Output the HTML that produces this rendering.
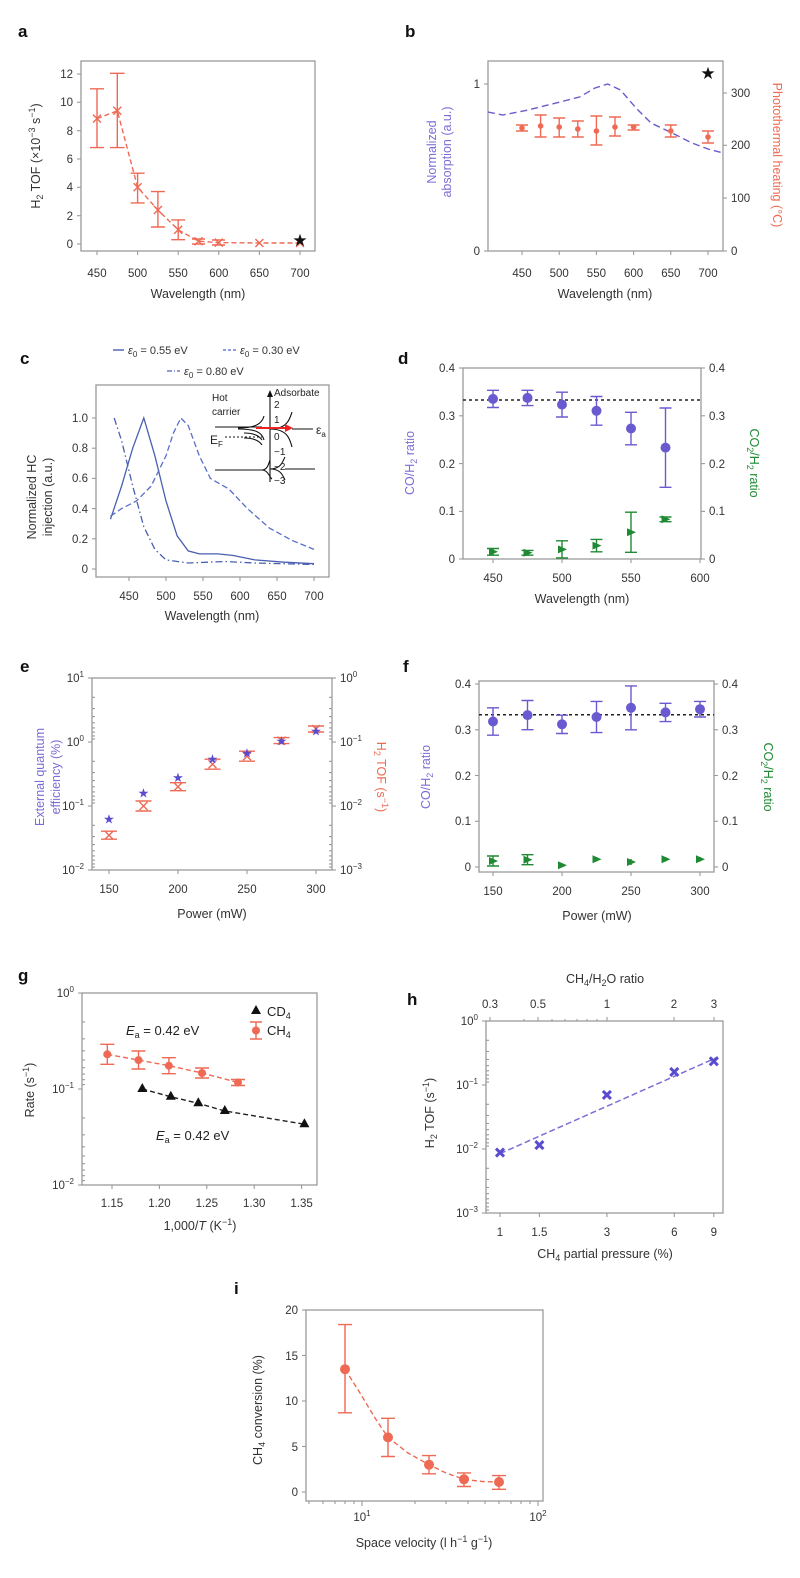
<!DOCTYPE html>
<html><head><meta charset="utf-8"><style>
html,body{margin:0;padding:0;background:#fff;}
svg{display:block;font-family:"Liberation Sans",sans-serif;}
.fr{fill:none;stroke:#9a9a9a;stroke-width:1.3}
.tk{stroke:#9a9a9a;stroke-width:1.1}
.tl{font-size:11.5px;fill:#333}
.al{font-size:12.5px;fill:#333}
.pl{font-size:17px;font-weight:bold;fill:#111}
.r{stroke:#ee6a55;fill:none;stroke-width:1.4}
.p{stroke:#6a5ad0;fill:none;stroke-width:1.4}
.g{stroke:#1f8a33;fill:none;stroke-width:1.4}
</style></head><body>
<svg width="800" height="1578" viewBox="0 0 800 1578">
<!-- ===== a ===== -->
<text class="pl" x="18" y="37">a</text>
<rect class="fr" x="81" y="61" width="234" height="190"/>
<g class="tk">
<line x1="77" y1="74" x2="81" y2="74"/><line x1="77" y1="102.3" x2="81" y2="102.3"/><line x1="77" y1="130.7" x2="81" y2="130.7"/><line x1="77" y1="159" x2="81" y2="159"/><line x1="77" y1="187.3" x2="81" y2="187.3"/><line x1="77" y1="215.7" x2="81" y2="215.7"/><line x1="77" y1="244" x2="81" y2="244"/>
<line x1="97" y1="251" x2="97" y2="255"/><line x1="137.6" y1="251" x2="137.6" y2="255"/><line x1="178.2" y1="251" x2="178.2" y2="255"/><line x1="218.8" y1="251" x2="218.8" y2="255"/><line x1="259.4" y1="251" x2="259.4" y2="255"/><line x1="300" y1="251" x2="300" y2="255"/>
</g>
<g class="tl" text-anchor="end"><text x="73" y="78">12</text><text x="73" y="106">10</text><text x="73" y="135">8</text><text x="73" y="163">6</text><text x="73" y="191">4</text><text x="73" y="220">2</text><text x="73" y="248">0</text></g>
<g class="tl" text-anchor="middle"><text x="97" y="277">450</text><text x="137.6" y="277">500</text><text x="178.2" y="277">550</text><text x="218.8" y="277">600</text><text x="259.4" y="277">650</text><text x="300" y="277">700</text></g>
<text class="al" x="198" y="298" text-anchor="middle">Wavelength (nm)</text>
<text class="al" transform="rotate(-90 40 156)" x="40" y="156" text-anchor="middle">H<tspan font-size="9" dy="3">2</tspan><tspan dy="-3"> TOF (×10</tspan><tspan font-size="9" dy="-5">−3</tspan><tspan dy="5"> s</tspan><tspan font-size="9" dy="-5">−1</tspan><tspan dy="5">)</tspan></text>
<polyline class="r" stroke-dasharray="5,3" points="97,118.6 117.3,110.8 137.6,187.3 157.9,210 178.2,229.8 198.5,241.2 218.8,242.6 259.4,243 300,243"/>
<g class="r">
<path d="M97,88.8V147.6M90,88.8H104M90,147.6H104"/>
<path d="M117.3,73.3V147.6M110,73.3H124.6M110,147.6H124.6"/>
<path d="M137.6,173.2V202.9M130.6,173.2H144.6M130.6,202.9H144.6"/>
<path d="M157.9,191.6V227M150.9,191.6H164.9M150.9,227H164.9"/>
<path d="M178.2,219.9V239.7M171.2,219.9H185.2M171.2,239.7H185.2"/>
<path d="M93,114.6l8,8M101,114.6l-8,8M113.3,106.8l8,8M121.3,106.8l-8,8M133.6,183.3l8,8M141.6,183.3l-8,8M153.9,206l8,8M161.9,206l-8,8M174.2,225.8l8,8M182.2,225.8l-8,8M194.5,237.2l8,8M202.5,237.2l-8,8M214.8,238.6l8,8M222.8,238.6l-8,8M255.4,239l8,8M263.4,239l-8,8M296,239l8,8M304,239l-8,8"/>
<path d="M192,239H205M192,244H205M212,240H225M212,245H225"/>
</g>
<text x="300" y="246" font-size="17" text-anchor="middle" fill="#111">★</text>

<!-- ===== b ===== -->
<text class="pl" x="405" y="37">b</text>
<rect class="fr" x="488" y="61" width="235" height="190"/>
<g class="tk">
<line x1="484" y1="84" x2="488" y2="84"/><line x1="484" y1="251" x2="488" y2="251"/>
<line x1="723" y1="93" x2="727" y2="93"/><line x1="723" y1="145.3" x2="727" y2="145.3"/><line x1="723" y1="198" x2="727" y2="198"/><line x1="723" y1="251" x2="727" y2="251"/>
<line x1="522" y1="251" x2="522" y2="255"/><line x1="559.2" y1="251" x2="559.2" y2="255"/><line x1="596.4" y1="251" x2="596.4" y2="255"/><line x1="633.6" y1="251" x2="633.6" y2="255"/><line x1="670.8" y1="251" x2="670.8" y2="255"/><line x1="708" y1="251" x2="708" y2="255"/>
</g>
<g class="tl" text-anchor="end"><text x="480" y="88">1</text><text x="480" y="255">0</text></g>
<g class="tl"><text x="731" y="97">300</text><text x="731" y="149">200</text><text x="731" y="202">100</text><text x="731" y="255">0</text></g>
<g class="tl" text-anchor="middle"><text x="522" y="277">450</text><text x="559.2" y="277">500</text><text x="596.4" y="277">550</text><text x="633.6" y="277">600</text><text x="670.8" y="277">650</text><text x="708" y="277">700</text></g>
<text class="al" x="605" y="298" text-anchor="middle">Wavelength (nm)</text>
<text class="al" fill="#7a6ed6" style="fill:#7a6ed6" transform="rotate(-90 436 152)" x="436" y="152" text-anchor="middle">Normalized</text>
<text class="al" style="fill:#7a6ed6" transform="rotate(-90 451 152)" x="451" y="152" text-anchor="middle">absorption (a.u.)</text>
<text class="al" style="fill:#ee6a55" transform="rotate(90 773 155)" x="773" y="155" text-anchor="middle">Photothermal heating (°C)</text>
<polyline class="p" stroke-dasharray="7,4" points="488,112 502.6,115 528,110 564,101 579.5,97 595,88 607.7,84 620.5,90 636,108 651,123 672,133 692,143 708,149 723,153"/>
<g class="r">
<path d="M522,125V131M516,125H528M516,131H528M540.6,115V137M534.6,115H546.6M534.6,137H546.6M559.2,118V137M553.2,118H565.2M553.2,137H565.2M577.8,121V137M571.8,121H583.8M571.8,137H583.8M596.4,116V145M590.4,116H602.4M590.4,145H602.4M615,117V136M609,117H621M609,136H621M633.6,125V130M627.6,125H639.6M627.6,130H639.6M670.8,125V137M664.8,125H676.8M664.8,137H676.8M708,131V143M702,131H714M702,143H714"/>
</g>
<g fill="#ee6a55"><circle cx="522" cy="128" r="2.8"/><circle cx="540.6" cy="126" r="2.8"/><circle cx="559.2" cy="127" r="2.8"/><circle cx="577.8" cy="129" r="2.8"/><circle cx="596.4" cy="131" r="2.8"/><circle cx="615" cy="127" r="2.8"/><circle cx="633.6" cy="127" r="2.8"/><circle cx="670.8" cy="131" r="2.8"/><circle cx="708" cy="137" r="2.8"/></g>
<text x="708" y="79" font-size="17" text-anchor="middle" fill="#111">★</text>

<!-- ===== c ===== -->
<text class="pl" x="20" y="364">c</text>
<g font-size="11" fill="#333">
<line x1="113" y1="350" x2="124" y2="350" stroke="#4a5fb0" stroke-width="1.4"/><text x="128" y="354"><tspan font-style="italic">ε</tspan><tspan font-size="8" dy="3">0</tspan><tspan dy="-3"> = 0.55 eV</tspan></text>
<line x1="223" y1="350" x2="236" y2="350" stroke="#6a7ad0" stroke-width="1.4" stroke-dasharray="3,2"/><text x="240" y="354"><tspan font-style="italic">ε</tspan><tspan font-size="8" dy="3">0</tspan><tspan dy="-3"> = 0.30 eV</tspan></text>
<line x1="167" y1="371" x2="180" y2="371" stroke="#6a7ad0" stroke-width="1.4" stroke-dasharray="5,2,1,2"/><text x="184" y="375"><tspan font-style="italic">ε</tspan><tspan font-size="8" dy="3">0</tspan><tspan dy="-3"> = 0.80 eV</tspan></text>
</g>
<rect class="fr" x="96" y="385" width="233" height="192"/>
<g class="tk">
<line x1="92" y1="418" x2="96" y2="418"/><line x1="92" y1="448.2" x2="96" y2="448.2"/><line x1="92" y1="478.4" x2="96" y2="478.4"/><line x1="92" y1="508.6" x2="96" y2="508.6"/><line x1="92" y1="538.8" x2="96" y2="538.8"/><line x1="92" y1="569" x2="96" y2="569"/>
<line x1="129" y1="577" x2="129" y2="581"/><line x1="166" y1="577" x2="166" y2="581"/><line x1="203" y1="577" x2="203" y2="581"/><line x1="240" y1="577" x2="240" y2="581"/><line x1="277" y1="577" x2="277" y2="581"/><line x1="314" y1="577" x2="314" y2="581"/>
</g>
<g class="tl" text-anchor="end"><text x="88" y="422">1.0</text><text x="88" y="452">0.8</text><text x="88" y="482">0.6</text><text x="88" y="513">0.4</text><text x="88" y="543">0.2</text><text x="88" y="573">0</text></g>
<g class="tl" text-anchor="middle"><text x="129" y="600">450</text><text x="166" y="600">500</text><text x="203" y="600">550</text><text x="240" y="600">600</text><text x="277" y="600">650</text><text x="314" y="600">700</text></g>
<text class="al" x="212" y="620" text-anchor="middle">Wavelength (nm)</text>
<text class="al" transform="rotate(-90 36 497)" x="36" y="497" text-anchor="middle">Normalized HC</text>
<text class="al" transform="rotate(-90 52 497)" x="52" y="497" text-anchor="middle">injection (a.u.)</text>
<polyline fill="none" stroke="#4a5fb0" stroke-width="1.3" points="110.5,519.2 121.6,486 132.7,448.2 143.8,418 154.9,455.8 166,501 177.1,535.8 188.2,550.9 199.3,553.9 217.8,553.9 232.6,555.4 254.8,559.9 284.4,562.2 314,563.7"/>
<polyline fill="none" stroke="#5a6ec8" stroke-width="1.3" stroke-dasharray="6,3" points="110.5,516.2 121.6,508.6 136.4,501 151.2,486 166,455.8 173.4,433.1 180.8,418 188.2,425.5 199.3,455.8 210.4,478.4 228.9,489 247.4,508.6 269.6,528.2 291.8,540.3 314,549.4"/>
<polyline fill="none" stroke="#4a5fb0" stroke-width="1.3" stroke-dasharray="7,3,1.5,3" points="114.2,418 121.6,440.7 132.7,486 143.8,526.7 154.9,549.4 166,559.9 188.2,563 225.2,561.5 254.8,563 314,564.5"/>
<!-- inset -->
<g stroke="#111" fill="none" stroke-width="1.1">
<line x1="270" y1="482" x2="270" y2="394"/>
<path d="M238,428 C255,428 262,424 264,416 M238,429 C255,429 262,432 264,440" />
<path d="M270,429 C288,429 290,418 292,412 M270,429 C288,429 290,440 292,447 M292,429 H313"/>
<path d="M215,427 H262 M215,470 H262 C268,470 270,478 272,479 M262,470 C268,470 269,462 270,460"/>
<path d="M270,469 C282,469 283,460 285,457 M270,469 C282,469 283,477 285,480 M285,469 H315"/>
<path d="M244,433 C255,433 260,437 262,440 M244,438 C255,438 260,442 262,445"/>
</g>
<path d="M270,390 l-3,7 h6z" fill="#111"/>
<line x1="225" y1="437" x2="262" y2="437" stroke="#111" stroke-dasharray="2,2" stroke-width="1.1"/>
<line x1="256" y1="428" x2="286" y2="428" stroke="#e22" stroke-width="2"/><path d="M293,428 l-8,-4 v8z" fill="#e22"/>
<g font-size="10" fill="#222"><text x="274" y="396">Adsorbate</text><text x="212" y="401">Hot</text><text x="212" y="415">carrier</text>
<text x="274" y="408">2</text><text x="274" y="423">1</text><text x="274" y="440">0</text><text x="274" y="455">−1</text><text x="274" y="470">−2</text><text x="274" y="484">−3</text>
<text x="210" y="444" font-size="12">E<tspan font-size="8" dy="3">F</tspan></text>
<text x="316" y="434" font-size="12">ε<tspan font-size="8" dy="3">a</tspan></text></g>

<!-- ===== d ===== -->
<text class="pl" x="398" y="364">d</text>
<rect class="fr" x="463" y="368" width="238" height="191"/>
<g class="tk">
<line x1="459" y1="368" x2="463" y2="368"/><line x1="459" y1="415.8" x2="463" y2="415.8"/><line x1="459" y1="463.6" x2="463" y2="463.6"/><line x1="459" y1="511.4" x2="463" y2="511.4"/><line x1="459" y1="559" x2="463" y2="559"/>
<line x1="701" y1="368" x2="705" y2="368"/><line x1="701" y1="415.8" x2="705" y2="415.8"/><line x1="701" y1="463.6" x2="705" y2="463.6"/><line x1="701" y1="511.4" x2="705" y2="511.4"/><line x1="701" y1="559" x2="705" y2="559"/>
<line x1="493" y1="559" x2="493" y2="563"/><line x1="562" y1="559" x2="562" y2="563"/><line x1="631" y1="559" x2="631" y2="563"/><line x1="700" y1="559" x2="700" y2="563"/>
</g>
<g class="tl" text-anchor="end"><text x="455" y="372">0.4</text><text x="455" y="420">0.3</text><text x="455" y="468">0.2</text><text x="455" y="515">0.1</text><text x="455" y="563">0</text></g>
<g class="tl"><text x="709" y="372">0.4</text><text x="709" y="420">0.3</text><text x="709" y="468">0.2</text><text x="709" y="515">0.1</text><text x="709" y="563">0</text></g>
<g class="tl" text-anchor="middle"><text x="493" y="582">450</text><text x="562" y="582">500</text><text x="631" y="582">550</text><text x="700" y="582">600</text></g>
<text class="al" x="582" y="603" text-anchor="middle">Wavelength (nm)</text>
<text class="al" style="fill:#7a6ed6" transform="rotate(-90 414 463)" x="414" y="463" text-anchor="middle">CO/H<tspan font-size="9" dy="3">2</tspan><tspan dy="-3"> ratio</tspan></text>
<text class="al" style="fill:#1f8a33" transform="rotate(90 750 463)" x="750" y="463" text-anchor="middle">CO<tspan font-size="9" dy="3">2</tspan><tspan dy="-3">/H</tspan><tspan font-size="9" dy="3">2</tspan><tspan dy="-3"> ratio</tspan></text>
<line x1="463" y1="400" x2="701" y2="400" stroke="#222" stroke-width="1.5" stroke-dasharray="3,3"/>
<g class="p"><path d="M493,390.3V407.5M487,390.3H499M487,407.5H499M527.5,390.3V405.6M521.5,390.3H533.5M521.5,405.6H533.5M562,392.2V417M556,392.2H568M556,417H568M596.5,396.5V425.2M590.5,396.5H602.5M590.5,425.2H602.5M631,412.3V444.8M625,412.3H637M625,444.8H637M665.5,408V487.3M659.5,408H671.5M659.5,487.3H671.5"/></g>
<g fill="#6a5ad0"><circle cx="493" cy="398.9" r="5"/><circle cx="527.5" cy="397.9" r="5"/><circle cx="562" cy="404.6" r="5"/><circle cx="596.5" cy="410.8" r="5"/><circle cx="631" cy="428.5" r="5"/><circle cx="665.5" cy="447.6" r="5"/></g>
<g class="g"><path d="M493,548.5V555.2M487,548.5H499M487,555.2H499M527.5,550.4V555.2M521.5,550.4H533.5M521.5,555.2H533.5M562,540.8V558M556,540.8H568M556,558H568M596.5,539.4V551.8M590.5,539.4H602.5M590.5,551.8H602.5M631,512.2V552.3M625,512.2H637M625,552.3H637M665.5,517V521.7M659.5,517H671.5M659.5,521.7H671.5"/></g>
<g fill="#1f8a33"><path d="M489,547.8l9,4l-9,4z"/><path d="M523.5,548.8l9,4l-9,4z"/><path d="M558,545.4l9,4l-9,4z"/><path d="M592.5,541.6l9,4l-9,4z"/><path d="M627,528.2l9,4l-9,4z"/><path d="M661.5,515.3l9,4l-9,4z"/></g>

<!-- ===== e ===== -->
<text class="pl" x="20" y="672">e</text>
<rect class="fr" x="92" y="678" width="240" height="192"/>
<g class="tk">
<line x1="88" y1="678" x2="92" y2="678"/><line x1="88" y1="742" x2="92" y2="742"/><line x1="88" y1="806" x2="92" y2="806"/><line x1="88" y1="870" x2="92" y2="870"/>
<line x1="332" y1="678" x2="336" y2="678"/><line x1="332" y1="742" x2="336" y2="742"/><line x1="332" y1="806" x2="336" y2="806"/><line x1="332" y1="870" x2="336" y2="870"/>
<path d="M92,697.3h3M92,708.6h3M92,716.6h3M92,722.8h3M92,727.9h3M92,732.2h3M92,735.9h3M92,739.1h3M92,761.3h3M92,772.6h3M92,780.6h3M92,786.8h3M92,791.9h3M92,796.2h3M92,799.9h3M92,803.1h3M92,825.3h3M92,836.6h3M92,844.6h3M92,850.8h3M92,855.9h3M92,860.2h3M92,863.9h3M92,867.1h3"/>
<path d="M332,697.3h-3M332,708.6h-3M332,716.6h-3M332,722.8h-3M332,727.9h-3M332,732.2h-3M332,735.9h-3M332,739.1h-3M332,761.3h-3M332,772.6h-3M332,780.6h-3M332,786.8h-3M332,791.9h-3M332,796.2h-3M332,799.9h-3M332,803.1h-3M332,825.3h-3M332,836.6h-3M332,844.6h-3M332,850.8h-3M332,855.9h-3M332,860.2h-3M332,863.9h-3M332,867.1h-3"/>
<line x1="109" y1="870" x2="109" y2="874"/><line x1="178" y1="870" x2="178" y2="874"/><line x1="247" y1="870" x2="247" y2="874"/><line x1="316" y1="870" x2="316" y2="874"/>
</g>
<g class="tl" text-anchor="end"><text x="84" y="682">10<tspan font-size="8" dy="-5">1</tspan></text><text x="84" y="746">10<tspan font-size="8" dy="-5">0</tspan></text><text x="84" y="810">10<tspan font-size="8" dy="-5">−1</tspan></text><text x="84" y="874">10<tspan font-size="8" dy="-5">−2</tspan></text></g>
<g class="tl"><text x="340" y="682">10<tspan font-size="8" dy="-5">0</tspan></text><text x="340" y="746">10<tspan font-size="8" dy="-5">−1</tspan></text><text x="340" y="810">10<tspan font-size="8" dy="-5">−2</tspan></text><text x="340" y="874">10<tspan font-size="8" dy="-5">−3</tspan></text></g>
<g class="tl" text-anchor="middle"><text x="109" y="893">150</text><text x="178" y="893">200</text><text x="247" y="893">250</text><text x="316" y="893">300</text></g>
<text class="al" x="212" y="918" text-anchor="middle">Power (mW)</text>
<text class="al" style="fill:#7a6ed6" transform="rotate(-90 44 777)" x="44" y="777" text-anchor="middle">External quantum</text>
<text class="al" style="fill:#7a6ed6" transform="rotate(-90 60 777)" x="60" y="777" text-anchor="middle">efficiency (%)</text>
<text class="al" style="fill:#ee6a55" transform="rotate(90 377 777)" x="377" y="777" text-anchor="middle">H<tspan font-size="9" dy="3">2</tspan><tspan dy="-3"> TOF (s</tspan><tspan font-size="9" dy="-5">−1</tspan><tspan dy="5">)</tspan></text>
<g class="r"><path d="M101,831.2H117M101,839.2H117M105,831.2l8,8M113,831.2l-8,8M135.5,801H151.5M135.5,811H151.5M139.5,802l8,8M147.5,802l-8,8M170,782.7H186M170,790.7H186M174,782.7l8,8M182,782.7l-8,8M204.5,759.2H220.5M204.5,769.2H220.5M208.5,760.2l8,8M216.5,760.2l-8,8M239,751.2H255M239,761.2H255M243,752.2l8,8M251,752.2l-8,8M273.5,737.6H289.5M273.5,743.6H289.5M277.5,736.6l8,8M285.5,736.6l-8,8M308,726H324M308,732H324M312,725l8,8M320,725l-8,8"/></g>
<g fill="#5a4ccf" font-size="13" text-anchor="middle"><text x="109" y="823.5">★</text><text x="143.5" y="797.6">★</text><text x="178" y="782">★</text><text x="212.5" y="763.3">★</text><text x="247" y="757.4">★</text><text x="281.5" y="745.3">★</text><text x="316" y="735.4">★</text></g>

<!-- ===== f ===== -->
<text class="pl" x="403" y="672">f</text>
<rect class="fr" x="479" y="681" width="235" height="191"/>
<g class="tk">
<line x1="475" y1="684" x2="479" y2="684"/><line x1="475" y1="729.8" x2="479" y2="729.8"/><line x1="475" y1="775.5" x2="479" y2="775.5"/><line x1="475" y1="821.3" x2="479" y2="821.3"/><line x1="475" y1="867" x2="479" y2="867"/>
<line x1="714" y1="684" x2="718" y2="684"/><line x1="714" y1="729.8" x2="718" y2="729.8"/><line x1="714" y1="775.5" x2="718" y2="775.5"/><line x1="714" y1="821.3" x2="718" y2="821.3"/><line x1="714" y1="867" x2="718" y2="867"/>
<line x1="493" y1="872" x2="493" y2="876"/><line x1="562" y1="872" x2="562" y2="876"/><line x1="631" y1="872" x2="631" y2="876"/><line x1="700" y1="872" x2="700" y2="876"/>
</g>
<g class="tl" text-anchor="end"><text x="471" y="688">0.4</text><text x="471" y="734">0.3</text><text x="471" y="780">0.2</text><text x="471" y="825">0.1</text><text x="471" y="871">0</text></g>
<g class="tl"><text x="722" y="688">0.4</text><text x="722" y="734">0.3</text><text x="722" y="780">0.2</text><text x="722" y="825">0.1</text><text x="722" y="871">0</text></g>
<g class="tl" text-anchor="middle"><text x="493" y="895">150</text><text x="562" y="895">200</text><text x="631" y="895">250</text><text x="700" y="895">300</text></g>
<text class="al" x="597" y="920" text-anchor="middle">Power (mW)</text>
<text class="al" style="fill:#7a6ed6" transform="rotate(-90 430 777)" x="430" y="777" text-anchor="middle">CO/H<tspan font-size="9" dy="3">2</tspan><tspan dy="-3"> ratio</tspan></text>
<text class="al" style="fill:#1f8a33" transform="rotate(90 764 777)" x="764" y="777" text-anchor="middle">CO<tspan font-size="9" dy="3">2</tspan><tspan dy="-3">/H</tspan><tspan font-size="9" dy="3">2</tspan><tspan dy="-3"> ratio</tspan></text>
<line x1="479" y1="714.7" x2="714" y2="714.7" stroke="#222" stroke-width="1.5" stroke-dasharray="3,3"/>
<g class="p"><path d="M493,707.8V735.2M487,707.8H499M487,735.2H499M527.5,700.5V729.7M521.5,700.5H533.5M521.5,729.7H533.5M562,715.2V733.5M556,715.2H568M556,733.5H568M596.5,701.4V732.6M590.5,701.4H602.5M590.5,732.6H602.5M631,685.9V729.8M625,685.9H637M625,729.8H637M665.5,703.3V721.6M659.5,703.3H671.5M659.5,721.6H671.5M700,701.4V717M694,701.4H706M694,717H706"/></g>
<g fill="#6a5ad0"><circle cx="493" cy="721.5" r="5"/><circle cx="527.5" cy="715.1" r="5"/><circle cx="562" cy="724.3" r="5"/><circle cx="596.5" cy="717" r="5"/><circle cx="631" cy="707.8" r="5"/><circle cx="665.5" cy="712.4" r="5"/><circle cx="700" cy="709.2" r="5"/></g>
<g class="g"><path d="M493,856V866M487,856H499M487,866H499M527.5,854.7V864.7M521.5,854.7H533.5M521.5,864.7H533.5M596.5,857V861.5M631,859V865M665.5,857V861.5M700,857V861.5"/></g>
<g fill="#1f8a33"><path d="M489,857l9,4l-9,4z"/><path d="M523.5,855.7l9,4l-9,4z"/><path d="M558,861.2l9,4l-9,4z"/><path d="M592.5,855.2l9,4l-9,4z"/><path d="M627,858l9,4l-9,4z"/><path d="M661.5,855.2l9,4l-9,4z"/><path d="M696,855.2l9,4l-9,4z"/></g>

<!-- ===== g ===== -->
<text class="pl" x="18" y="981">g</text>
<rect class="fr" x="82" y="993" width="235" height="192"/>
<g class="tk">
<line x1="78" y1="993" x2="82" y2="993"/><line x1="78" y1="1089" x2="82" y2="1089"/><line x1="78" y1="1185" x2="82" y2="1185"/>
<path d="M82,1021.9h3M82,1038.8h3M82,1050.8h3M82,1060.1h3M82,1067.7h3M82,1074.1h3M82,1079.7h3M82,1084.6h3M82,1117.9h3M82,1134.8h3M82,1146.8h3M82,1156.1h3M82,1163.7h3M82,1170.1h3M82,1175.7h3M82,1180.6h3"/>
<line x1="112" y1="1185" x2="112" y2="1189"/><line x1="159.4" y1="1185" x2="159.4" y2="1189"/><line x1="206.8" y1="1185" x2="206.8" y2="1189"/><line x1="254.2" y1="1185" x2="254.2" y2="1189"/><line x1="301.6" y1="1185" x2="301.6" y2="1189"/>
</g>
<g class="tl" text-anchor="end"><text x="74" y="997">10<tspan font-size="8" dy="-5">0</tspan></text><text x="74" y="1093">10<tspan font-size="8" dy="-5">−1</tspan></text><text x="74" y="1189">10<tspan font-size="8" dy="-5">−2</tspan></text></g>
<g class="tl" text-anchor="middle"><text x="112" y="1207">1.15</text><text x="159.4" y="1207">1.20</text><text x="206.8" y="1207">1.25</text><text x="254.2" y="1207">1.30</text><text x="301.6" y="1207">1.35</text></g>
<text class="al" x="200" y="1230" text-anchor="middle">1,000/<tspan font-style="italic">T</tspan> (K<tspan font-size="9" dy="-5">−1</tspan><tspan dy="5">)</tspan></text>
<text class="al" transform="rotate(-90 34 1090)" x="34" y="1090" text-anchor="middle">Rate (s<tspan font-size="9" dy="-5">−1</tspan><tspan dy="5">)</tspan></text>
<polyline fill="none" stroke="#ee6a55" stroke-width="1.4" stroke-dasharray="5,3" points="107.3,1054.3 138.5,1060.1 168.9,1065.7 202,1073 238,1082.5"/>
<polyline fill="none" stroke="#222" stroke-width="1.4" stroke-dasharray="5,3" points="142.3,1089 170.8,1096.8 198.3,1103.3 224.8,1111 304.4,1124.2"/>
<g class="r"><path d="M107.3,1044.3V1064.3M100.3,1044.3H114.3M100.3,1064.3H114.3M138.5,1051V1069M131.5,1051H145.5M131.5,1069H145.5M168.9,1057.7V1073.7M161.9,1057.7H175.9M161.9,1073.7H175.9M202,1068V1078M195,1068H209M195,1078H209M238,1079.5V1085.5M231,1079.5H245M231,1085.5H245"/></g>
<g fill="#ee6a55"><circle cx="107.3" cy="1054.3" r="4"/><circle cx="138.5" cy="1060.1" r="4"/><circle cx="168.9" cy="1065.7" r="4"/><circle cx="202" cy="1073" r="4"/><circle cx="238" cy="1082.5" r="4"/></g>
<g fill="#111"><path d="M142.3,1083l-5,9h10z"/><path d="M170.8,1090.8l-5,9h10z"/><path d="M198.3,1097.3l-5,9h10z"/><path d="M224.8,1105l-5,9h10z"/><path d="M304.4,1118.2l-5,9h10z"/></g>
<path d="M256,1005l-5,9h10z" fill="#111"/>
<text x="267" y="1016" font-size="13" fill="#222">CD<tspan font-size="9" dy="3">4</tspan></text>
<g class="r"><path d="M256,1022V1039M250,1022H262M250,1039H262"/></g><circle cx="256" cy="1030.5" r="4" fill="#ee6a55"/>
<text x="267" y="1035" font-size="13" fill="#222">CH<tspan font-size="9" dy="3">4</tspan></text>
<text x="126" y="1035" font-size="13" fill="#222"><tspan font-style="italic">E</tspan><tspan font-size="9" dy="3">a</tspan><tspan dy="-3"> = 0.42 eV</tspan></text>
<text x="156" y="1140" font-size="13" fill="#222"><tspan font-style="italic">E</tspan><tspan font-size="9" dy="3">a</tspan><tspan dy="-3"> = 0.42 eV</tspan></text>

<!-- ===== h ===== -->
<text class="pl" x="407" y="1005">h</text>
<text class="al" x="605" y="983" text-anchor="middle">CH<tspan font-size="9" dy="3">4</tspan><tspan dy="-3">/H</tspan><tspan font-size="9" dy="3">2</tspan><tspan dy="-3">O ratio</tspan></text>
<g class="tl" text-anchor="middle"><text x="490" y="1008">0.3</text><text x="538" y="1008">0.5</text><text x="607" y="1008">1</text><text x="674" y="1008">2</text><text x="714" y="1008">3</text></g>
<rect class="fr" x="486" y="1021" width="237" height="192"/>
<g class="tk">
<path d="M490,1021v-4M538,1021v-4M607,1021v-4M674,1021v-4M714,1021v-4M524,1021v-2M552,1021v-2M565,1021v-2M577,1021v-2M587,1021v-2M597,1021v-2"/>
<line x1="482" y1="1021" x2="486" y2="1021"/><line x1="482" y1="1085" x2="486" y2="1085"/><line x1="482" y1="1149" x2="486" y2="1149"/><line x1="482" y1="1213" x2="486" y2="1213"/>
<path d="M486,1040.3h3M486,1051.5h3M486,1059.5h3M486,1065.7h3M486,1070.8h3M486,1075.1h3M486,1078.8h3M486,1082.1h3M486,1104.3h3M486,1115.5h3M486,1123.5h3M486,1129.7h3M486,1134.8h3M486,1139.1h3M486,1142.8h3M486,1146.1h3M486,1168.3h3M486,1179.5h3M486,1187.5h3M486,1193.7h3M486,1198.8h3M486,1203.1h3M486,1206.8h3M486,1210.1h3"/>
<path d="M500,1213v4M539.4,1213v4M606.9,1213v4M674.3,1213v4M713.8,1213v4"/>
</g>
<g class="tl" text-anchor="end"><text x="478" y="1025">10<tspan font-size="8" dy="-5">0</tspan></text><text x="478" y="1089">10<tspan font-size="8" dy="-5">−1</tspan></text><text x="478" y="1153">10<tspan font-size="8" dy="-5">−2</tspan></text><text x="478" y="1217">10<tspan font-size="8" dy="-5">−3</tspan></text></g>
<g class="tl" text-anchor="middle"><text x="500" y="1236">1</text><text x="539.4" y="1236">1.5</text><text x="606.9" y="1236">3</text><text x="674.3" y="1236">6</text><text x="713.8" y="1236">9</text></g>
<text class="al" x="605" y="1258" text-anchor="middle">CH<tspan font-size="9" dy="3">4</tspan><tspan dy="-3"> partial pressure (%)</tspan></text>
<text class="al" transform="rotate(-90 434 1113)" x="434" y="1113" text-anchor="middle">H<tspan font-size="9" dy="3">2</tspan><tspan dy="-3"> TOF (s</tspan><tspan font-size="9" dy="-5">−1</tspan><tspan dy="5">)</tspan></text>
<line x1="500" y1="1153.6" x2="718" y2="1057" stroke="#7a6ed6" stroke-width="1.5" stroke-dasharray="6,3"/>
<g stroke="#5a4ccf" stroke-width="3"><path d="M496,1148.6l8,8M504,1148.6l-8,8M535.4,1141.1l8,8M543.4,1141.1l-8,8M602.9,1090.9l8,8M610.9,1090.9l-8,8M670.3,1067.9l8,8M678.3,1067.9l-8,8M709.8,1057.3l8,8M717.8,1057.3l-8,8"/></g>

<!-- ===== i ===== -->
<text class="pl" x="234" y="1294">i</text>
<rect class="fr" x="306" y="1310" width="237" height="191"/>
<g class="tk">
<line x1="302" y1="1310" x2="306" y2="1310"/><line x1="302" y1="1355.5" x2="306" y2="1355.5"/><line x1="302" y1="1401" x2="306" y2="1401"/><line x1="302" y1="1446.5" x2="306" y2="1446.5"/><line x1="302" y1="1492" x2="306" y2="1492"/>
<path d="M362,1501v5M538,1501v5M309,1501v3M323,1501v3M335,1501v3M345,1501v3M354,1501v3M415,1501v3M446,1501v3M468,1501v3M485,1501v3M499,1501v3M511,1501v3M521,1501v3M530,1501v3"/>
</g>
<g class="tl" text-anchor="end"><text x="298" y="1314">20</text><text x="298" y="1360">15</text><text x="298" y="1405">10</text><text x="298" y="1451">5</text><text x="298" y="1496">0</text></g>
<g class="tl" text-anchor="middle"><text x="362" y="1521">10<tspan font-size="8" dy="-5">1</tspan></text><text x="538" y="1521">10<tspan font-size="8" dy="-5">2</tspan></text></g>
<text class="al" x="424" y="1547" text-anchor="middle">Space velocity (l h<tspan font-size="9" dy="-5">−1</tspan><tspan dy="5"> g</tspan><tspan font-size="9" dy="-5">−1</tspan><tspan dy="5">)</tspan></text>
<text class="al" transform="rotate(-90 262 1410)" x="262" y="1410" text-anchor="middle">CH<tspan font-size="9" dy="3">4</tspan><tspan dy="-3"> conversion (%)</tspan></text>
<polyline fill="none" stroke="#ee6a55" stroke-width="1.4" stroke-dasharray="5,3" points="345,1369.2 360,1393 375,1418 388,1437.4 408,1453 429,1464.7 446,1473 464,1479.3 482,1481.5 499,1482"/>
<g class="r"><path d="M345,1324.6V1412.8M338,1324.6H352M338,1412.8H352M388,1418.3V1456.5M381,1418.3H395M381,1456.5H395M429,1455.6V1473.8M422,1455.6H436M422,1473.8H436M464,1472.9V1486.5M457,1472.9H471M457,1486.5H471M499,1475.6V1489.3M492,1475.6H506M492,1489.3H506"/></g>
<g fill="#ee6a55"><circle cx="345" cy="1369.2" r="5"/><circle cx="388" cy="1437.4" r="5"/><circle cx="429" cy="1464.7" r="5"/><circle cx="464" cy="1479.3" r="5"/><circle cx="499" cy="1482" r="5"/></g>
</svg>
</body></html>
